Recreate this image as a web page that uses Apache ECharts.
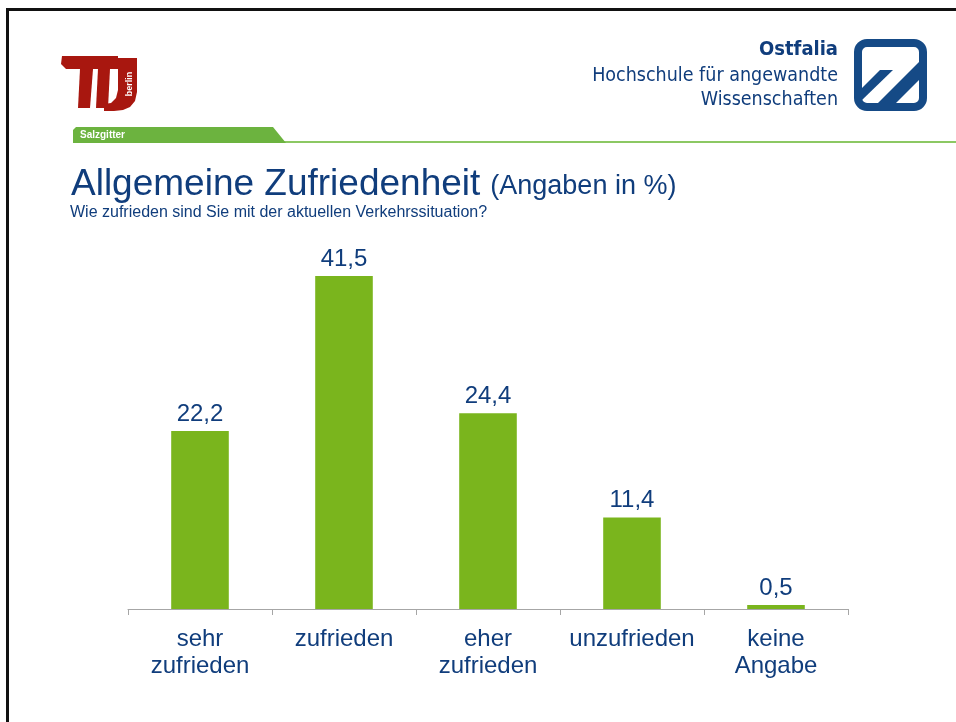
<!DOCTYPE html>
<html>
<head>
<meta charset="utf-8">
<title>Allgemeine Zufriedenheit</title>
<script src="https://cdn.jsdelivr.net/npm/echarts@6/dist/echarts.min.js"></script>
<style>
  html, body { margin: 0; padding: 0; background: #fff; }
  #chart { width: 956px; height: 722px; }
</style>
</head>
<body>
<div id="chart"></div>
<script>
// Daten (Angaben in %)
const categories = ['sehr\nzufrieden', 'zufrieden', 'eher\nzufrieden', 'unzufrieden', 'keine\nAngabe']
const values = [22.2, 41.5, 24.4, 11.4, 0.5]

const BLUE = '#103d7c'
const GREEN = '#7ab51d'
const NARROW = "'Liberation Sans Narrow', 'DejaVu Sans Condensed', sans-serif"

const chart = echarts.init(document.getElementById('chart'))

const option = {
  backgroundColor: '#fff',
  animation: false,
  title: {
    left: 66,
    top: 161,
    text: '{a|Allgemeine Zufriedenheit}  {b|(Angaben in %)}',
    textStyle: {
      fontWeight: 'normal',
      rich: {
        a: { fontFamily: 'Liberation Sans', fontWeight: 'normal', fontSize: 37, color: BLUE },
        b: { fontFamily: 'Liberation Sans', fontWeight: 'normal', fontSize: 27, color: BLUE, padding: [5, 0, 0, 0] }
      }
    }
  },
  grid: { left: 128, right: 108, top: 248, bottom: 113 },
  xAxis: {
    type: 'category',
    data: categories,
    axisLine: { lineStyle: { color: '#a6a6a6', width: 1 } },
    axisTick: { show: true, length: 6, lineStyle: { color: '#a6a6a6' } },
    axisLabel: {
      interval: 0,
      color: BLUE,
      fontFamily: 'Liberation Sans',
      fontSize: 24,
      lineHeight: 27,
      margin: 17
    }
  },
  yAxis: { type: 'value', show: false, min: 0, max: 45 },
  series: [{
    type: 'bar',
    data: values,
    barWidth: '40%',
    itemStyle: { color: GREEN },
    label: {
      show: true,
      position: 'top',
      distance: 5,
      color: BLUE,
      fontFamily: 'Liberation Sans',
      fontSize: 24,
      formatter: p => p.value.toFixed(1).replace('.', ',')
    }
  }],
  graphic: [
    // Rahmen oben und links
    { type: 'rect', shape: { x: 6, y: 8, width: 950, height: 3 }, style: { fill: '#111' } },
    { type: 'rect', shape: { x: 6, y: 8, width: 3, height: 714 }, style: { fill: '#111' } },

    // TU Logo (vereinfacht)
    { type: 'polygon', shape: { points: [[62, 56], [118, 56], [118, 69], [66, 69], [61, 64]] }, style: { fill: '#a8170f' } },
    { type: 'polygon', shape: { points: [[80, 69], [93, 69], [90, 108], [78, 108]] }, style: { fill: '#a8170f' } },
    { type: 'polygon', shape: { points: [[98, 69], [110, 69], [108, 108], [96, 108]] }, style: { fill: '#a8170f' } },
    { type: 'polygon', shape: { points: [[118, 58], [137, 58], [137, 92], [135, 101], [130, 107], [123, 110], [114, 111], [104, 111], [104, 104], [111, 103], [116, 98], [118, 90]] }, style: { fill: '#a8170f' } },
    { type: 'text', x: 130, y: 84, rotation: Math.PI / 2, style: { text: 'berlin', fill: '#fff', font: 'bold 9px Liberation Sans', align: 'center', verticalAlign: 'middle' } },

    // Ostfalia Schriftzug
    { type: 'text', x: 838, y: 50, style: { text: 'Ostfalia', fill: BLUE, font: 'bold 20px ' + NARROW, align: 'right', verticalAlign: 'middle' } },
    { type: 'text', x: 838, y: 76, style: { text: 'Hochschule für angewandte', fill: BLUE, font: '19.5px ' + NARROW, align: 'right', verticalAlign: 'middle' } },
    { type: 'text', x: 838, y: 100, style: { text: 'Wissenschaften', fill: BLUE, font: '19.5px ' + NARROW, align: 'right', verticalAlign: 'middle' } },

    // Ostfalia Logo
    { type: 'rect', shape: { x: 858, y: 43, width: 65, height: 64, r: 9 }, style: { fill: 'none', stroke: '#154a86', lineWidth: 8 } },
    { type: 'polygon', shape: { points: [[862, 88], [880, 70], [893, 70], [862, 100]] }, style: { fill: '#154a86' } },
    { type: 'polygon', shape: { points: [[877, 104], [919, 62], [919, 80], [895, 104]] }, style: { fill: '#154a86' } },

    // Salzgitter Reiter und Linie
    { type: 'rect', shape: { x: 73, y: 141, width: 883, height: 2 }, style: { fill: '#8cc863' } },
    { type: 'polygon', shape: { points: [[76, 127], [273, 127], [286, 143], [73, 143], [73, 130]] }, style: { fill: '#6cb33f' } },
    { type: 'text', x: 80, y: 135, style: { text: 'Salzgitter', fill: '#fff', font: 'bold 10px Liberation Sans', verticalAlign: 'middle' } },

    // Untertitel
    { type: 'text', x: 70, y: 213, style: { text: 'Wie zufrieden sind Sie mit der aktuellen Verkehrssituation?', fill: BLUE, font: '16px Liberation Sans', verticalAlign: 'middle' } }
  ]
}

chart.setOption(option)
</script>
</body>
</html>
